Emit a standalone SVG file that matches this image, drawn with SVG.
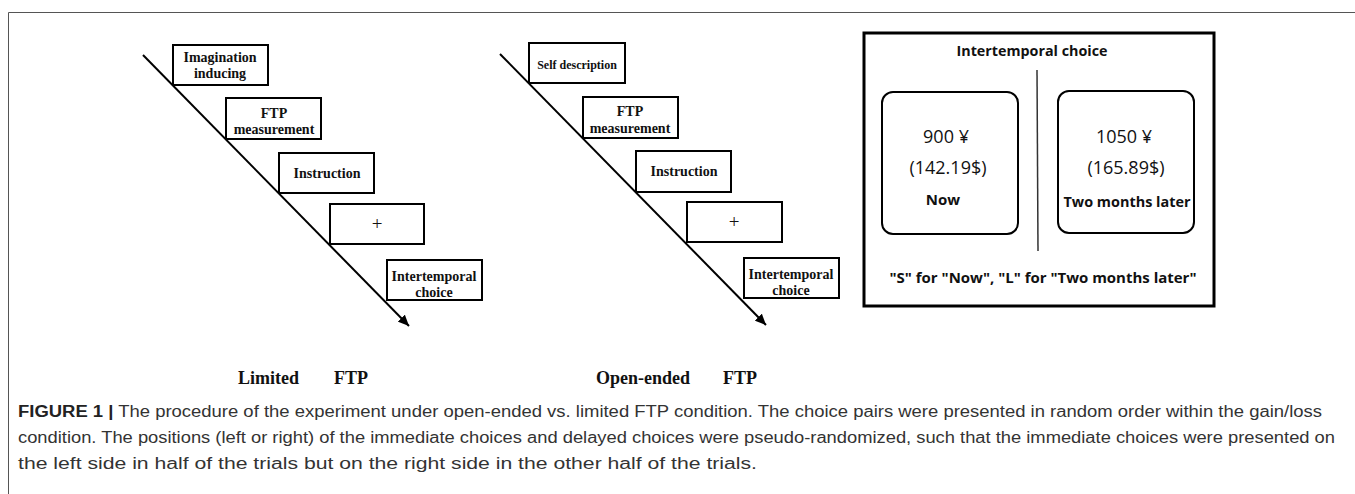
<svg xmlns="http://www.w3.org/2000/svg" width="1355" height="494" viewBox="0 0 1355 494">
<defs>
<marker id="arr" markerUnits="userSpaceOnUse" markerWidth="12" markerHeight="10" refX="11" refY="5" orient="auto">
<path d="M0,0 L11,5 L0,10 Z" fill="#000"/>
</marker>
<style>
.box{fill:#fff;stroke:#000;stroke-width:2}
.tl{stroke:#000;stroke-width:2;fill:none}
.st{font-family:"Liberation Serif",serif;font-weight:bold;font-size:14px;fill:#111;text-anchor:middle}
.sm{font-size:12px}
.plus{font-family:"Liberation Serif",serif;font-size:19px;fill:#111;text-anchor:middle}
.lab{font-family:"Liberation Serif",serif;font-weight:bold;font-size:18px;fill:#111}
.ss{font-family:"Open Sans","Liberation Sans",sans-serif;fill:#111;text-anchor:middle}
.b{font-weight:bold}
.num{font-size:18px}
.cap{font-family:"Liberation Sans",Arial,sans-serif;font-size:16px;fill:#333}
</style>
</defs>
<rect width="1355" height="494" fill="#fff"/>
<path d="M8.5,494 V12.5 H1355" fill="none" stroke="#555" stroke-width="1"/>

<g id="connectors">
<line class="tl" x1="143" y1="55" x2="409" y2="326" marker-end="url(#arr)"/>
<line class="tl" x1="500" y1="54" x2="766" y2="325" marker-end="url(#arr)"/>
</g>

<g id="limited-imagination"><rect class="box" x="173" y="45" width="95" height="40"/><text class="st" x="220" y="62">Imagination</text><text class="st" x="220" y="78">inducing</text></g>
<g id="limited-ftp"><rect class="box" x="226" y="98" width="95" height="41"/><text class="st" x="274" y="118">FTP</text><text class="st" x="274" y="134">measurement</text></g>
<g id="limited-instruction"><rect class="box" x="279" y="153" width="95" height="40"/><text class="st" x="327" y="178">Instruction</text></g>
<g id="limited-fixation"><rect class="box" x="330" y="204" width="94" height="40"/><text class="plus" x="377" y="230">+</text></g>
<g id="limited-choice"><rect class="box" x="387" y="260" width="95" height="40"/><text class="st" x="434" y="281">Intertemporal</text><text class="st" x="434" y="297">choice</text></g>
<g id="label-limited"><text class="lab" x="238" y="384">Limited</text><text class="lab" x="334" y="384">FTP</text></g>

<g id="open-self"><rect class="box" x="529" y="43" width="96" height="40"/><text class="st sm" x="577" y="69">Self description</text></g>
<g id="open-ftp"><rect class="box" x="583" y="97" width="95" height="41"/><text class="st" x="630" y="116">FTP</text><text class="st" x="630" y="133">measurement</text></g>
<g id="open-instruction"><rect class="box" x="636" y="151" width="95" height="41"/><text class="st" x="684" y="176">Instruction</text></g>
<g id="open-fixation"><rect class="box" x="687" y="202" width="95" height="40"/><text class="plus" x="734" y="228">+</text></g>
<g id="open-choice"><rect class="box" x="744" y="258" width="95" height="40"/><text class="st" x="791" y="279">Intertemporal</text><text class="st" x="791" y="295">choice</text></g>
<g id="label-open"><text class="lab" x="596" y="384">Open-ended</text><text class="lab" x="723" y="384">FTP</text></g>

<g id="choice-screen">
<rect x="864" y="33" width="350" height="273" fill="#fff" stroke="#000" stroke-width="3"/>
<text class="ss b" x="1032" y="56" font-size="15" textLength="151" lengthAdjust="spacingAndGlyphs">Intertemporal choice</text>
<line x1="1037" y1="70" x2="1038" y2="251" stroke="#333" stroke-width="1.5"/>
<g id="option-now">
<rect x="882" y="92" width="136" height="142" rx="11" fill="#fff" stroke="#000" stroke-width="2"/>
<text class="ss num" x="946" y="143">900 ¥</text>
<text class="ss num" x="948" y="174">(142.19$)</text>
<text class="ss b" x="943" y="205" font-size="15">Now</text>
</g>
<g id="option-later">
<rect x="1058" y="91" width="136" height="142" rx="11" fill="#fff" stroke="#000" stroke-width="2"/>
<text class="ss num" x="1124" y="143">1050 ¥</text>
<text class="ss num" x="1126" y="174">(165.89$)</text>
<text class="ss b" x="1127" y="207" font-size="15" textLength="127" lengthAdjust="spacingAndGlyphs">Two months later</text>
</g>
<text class="ss b" x="1043" y="283" font-size="15" textLength="307" lengthAdjust="spacingAndGlyphs">"S" for "Now", "L" for "Two months later"</text>
</g>

<g id="caption">
<text class="cap" x="18" y="417" textLength="1304" lengthAdjust="spacingAndGlyphs"><tspan font-weight="bold" fill="#222">FIGURE 1 |</tspan> The procedure of the experiment under open-ended vs. limited FTP condition. The choice pairs were presented in random order within the gain/loss</text>
<text class="cap" x="18" y="443" textLength="1317" lengthAdjust="spacingAndGlyphs">condition. The positions (left or right) of the immediate choices and delayed choices were pseudo-randomized, such that the immediate choices were presented on</text>
<text class="cap" x="18" y="469" textLength="739" lengthAdjust="spacingAndGlyphs">the left side in half of the trials but on the right side in the other half of the trials.</text>
</g>
</svg>
